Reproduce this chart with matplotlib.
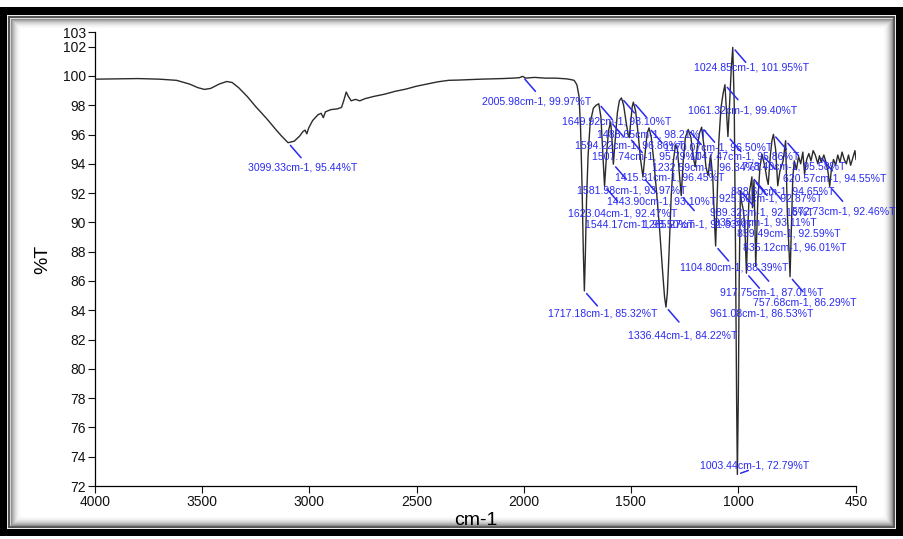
import matplotlib
matplotlib.use("Agg")
import matplotlib.pyplot as plt
from matplotlib.patches import Rectangle

# ---------------------------------------------------------------- data
# Traced spectrum (wavenumber in cm-1, transmittance in %T)
trace_wavenumber = [
    4000, 3900, 3800, 3700, 3620, 3560, 3520, 3490, 3460, 3420, 3385, 3360,
    3330, 3290, 3250, 3200, 3160, 3130, 3070, 3045, 3030, 3020, 3012, 3003,
    2985, 2960, 2945, 2935, 2925, 2900, 2870, 2850, 2840, 2828, 2818, 2805,
    2785, 2765, 2740, 2700, 2650, 2600, 2550, 2500, 2450, 2400, 2350, 2300,
    2250, 2200, 2150, 2100, 2050, 2020, 1990, 1950, 1900, 1850, 1800, 1780,
    1765, 1752, 1742, 1735, 1728, 1722, 1713, 1707, 1700, 1690, 1675, 1662,
    1640, 1632, 1613, 1604, 1588, 1574, 1563, 1554, 1534, 1522, 1513, 1500,
    1494, 1478, 1466, 1455, 1432, 1424, 1405, 1394, 1380, 1366, 1352, 1343,
    1330, 1322, 1312, 1302, 1292, 1283, 1275, 1256, 1246, 1220, 1210, 1200,
    1190, 1180, 1160, 1150, 1140, 1128, 1118, 1110, 1098, 1090, 1080, 1070,
    1055, 1040, 1032, 1018, 1012, 1007, 999, 995, 985, 975, 968, 955, 948,
    933, 908, 898, 875, 866, 850, 842, 825, 815, 805, 790, 770, 762, 750,
    745, 738, 728, 718, 708, 698, 690, 680, 670, 660, 650, 640, 628, 612,
    600, 590, 580, 565, 555, 545, 535, 525, 515, 505, 495, 485, 475, 465,
    455, 450,
]
trace_transmittance = [
    99.78, 99.80, 99.82, 99.78, 99.70, 99.45, 99.20, 99.08, 99.15, 99.45, 99.62, 99.55,
    99.20, 98.60, 97.90, 97.10, 96.40, 95.90, 95.55, 95.90, 96.20, 96.30, 96.05, 96.45,
    96.95, 97.35, 97.45, 97.15, 97.55, 97.70, 97.75, 97.85, 98.30, 98.90, 98.60, 98.30,
    98.40, 98.30, 98.45, 98.60, 98.75, 98.95, 99.10, 99.30, 99.45, 99.60, 99.70, 99.72,
    99.75, 99.78, 99.80, 99.82, 99.85, 99.88, 99.85, 99.90, 99.85, 99.85, 99.80, 99.75,
    99.70, 99.40, 98.60, 96.50, 92.50, 88.00, 87.50, 91.50, 94.50, 96.80, 97.80, 98.00,
    97.20, 95.00, 94.80, 96.30, 95.60, 95.50, 97.50, 98.30, 98.00, 96.80, 96.00, 97.00,
    97.90, 97.60, 96.00, 94.30, 95.00, 96.10, 95.80, 94.30, 92.00, 89.50, 86.60, 84.90,
    85.20, 88.00, 91.80, 94.20, 95.30, 95.00, 93.50, 94.20, 95.80, 95.80, 94.50, 93.80,
    95.20, 96.10, 95.30, 93.80, 93.20, 94.60, 93.00, 90.00, 91.50, 95.50, 97.80, 98.80,
    97.80, 98.00, 100.50, 98.00, 88.00, 78.00, 78.00, 86.00, 91.50, 90.80, 89.50, 89.50, 92.00,
    91.00, 91.50, 93.80, 93.80, 93.00, 94.50, 95.60, 95.00, 92.50, 93.50, 94.20, 90.50, 88.00, 90.50,
    93.00, 94.20, 93.60, 94.50, 94.00, 94.80, 93.30, 94.30, 94.70, 94.20, 94.90, 94.60, 94.00, 94.10,
    94.60, 94.10, 93.40, 93.60, 94.30, 93.90, 94.60, 94.10, 94.80, 94.30, 94.00, 94.60, 93.90, 94.40,
    94.90, 94.30,
]

# Picked peaks (wavenumber in cm-1, %T)
peak_wavenumber = [
    3099.33, 2005.98, 1717.18, 1649.92, 1623.04, 1594.22, 1581.98, 1544.17,
    1507.74, 1488.65, 1443.90, 1415.31, 1336.44, 1265.27, 1232.59, 1170.07,
    1104.80, 1061.32, 1047.47, 1024.85, 1003.44, 989.32, 961.08, 935.50,
    925.80, 917.75, 888.60, 859.49, 835.12, 778.40, 757.68, 620.57, 572.73,
]
peak_transmittance = [
    95.44, 99.97, 85.32, 98.10, 92.47, 96.86, 93.97, 98.50,
    95.79, 98.21, 93.10, 96.45, 84.22, 91.83, 96.34, 96.50,
    88.39, 99.40, 95.86, 101.95, 72.79, 92.16, 86.53, 93.11,
    92.87, 87.01, 94.65, 92.59, 96.01, 95.58, 86.29, 94.55, 92.46,
]

x_ticks = [4000, 3500, 3000, 2500, 2000, 1500, 1000, 450]
y_ticks = [72, 74, 76, 78, 80, 82, 84, 86, 88, 90, 92, 94, 96, 98, 100, 102, 103]

# ---------------------------------------------------------------- layout
# label placement: (dx, dy) in pixels from the peak to the text's left/middle,
# dy measured downwards
DEFAULT_OFFSET = (-38, 24)
label_offset = {
    3099.33: (-40, 25), 2005.98: (-40, 25), 1717.18: (-36, 23),
    1649.92: (-37, 18), 1623.04: (-37, 27), 1594.22: (-36, 24),
    1581.98: (-36, 26), 1544.17: (-36, 127), 1507.74: (-37, 19),
    1488.65: (-36, 32), 1443.90: (-36, 25), 1415.31: (-34, 50),
    1336.44: (-38, 28), 1265.27: (-38, 29), 1232.59: (-36, 38),
    1170.07: (-38, 20), 1104.80: (-36, 22), 1061.32: (-37, 26),
    1047.47: (-38, 20), 1024.85: (-39, 20), 1003.44: (-37, -9),
    989.32: (-30, 22), 961.08: (-36, 40), 935.50: (-38, 46),
    925.80: (-35, 18), 917.75: (-36, 26), 888.60: (-31, 37),
    859.49: (-31, 49), 835.12: (-30, 113), 778.40: (-44, 26),
    757.68: (-37, 26), 620.57: (-36, 23), 572.73: (-38, 25),
}

W, H, DPI = 904, 539, 100
BLUE = "#2a2af2"
FONT = ["Liberation Sans Narrow", "Liberation Sans", "DejaVu Sans"]
LABEL_FONT = ["Liberation Sans", "DejaVu Sans"]

plt.rcParams["font.family"] = FONT

fig = plt.figure(figsize=(W / DPI, H / DPI), dpi=DPI)
fig.patch.set_facecolor("white")


def box(x0, top, x1, bottom, **kw):
    """Rectangle given in image pixels (origin top-left)."""
    r = Rectangle((x0, H - bottom), x1 - x0, bottom - top, transform=None, **kw)
    fig.add_artist(r)
    return r


# outer black border with a thin shadowed inner frame
box(0, 7, 903, 536, facecolor="black", edgecolor="none", zorder=0)
box(7, 15, 896, 529, facecolor="white", edgecolor="none", zorder=0)
box(9, 17, 894, 527, facecolor="none", edgecolor="#555555", linewidth=1.6, zorder=0)
shades = ["#8c8c8c", "#a4a4a4", "#b8b8b8", "#c9c9c9", "#d8d8d8",
          "#e4e4e4", "#eeeeee", "#f5f5f5", "#fafafa"]
for i, c in enumerate(shades):
    box(11 + i, 19 + i, 892 - i, 525 - i, facecolor="none", edgecolor=c,
        linewidth=1.0, zorder=0)

# axes area
ax_left, ax_right, ax_top, ax_bottom = 95, 856, 32, 486
ax = fig.add_axes([ax_left / W, (H - ax_bottom) / H,
                   (ax_right - ax_left) / W, (ax_bottom - ax_top) / H])
ax.set_facecolor("none")

# spectrum: traced points together with the picked peaks
pts = sorted(zip(trace_wavenumber + peak_wavenumber,
                 trace_transmittance + peak_transmittance),
             key=lambda p: -p[0])
ax.plot([p[0] for p in pts], [p[1] for p in pts], color="#2b2b2b",
        linewidth=1.0, zorder=3)

ax.set_xlim(4000, 450)
ax.set_ylim(72, 103)
ax.set_xticks(x_ticks)
ax.set_xticklabels([str(v) for v in x_ticks])
ax.set_yticks(y_ticks)
ax.set_yticklabels([str(v) for v in y_ticks])
for s in ("top", "right"):
    ax.spines[s].set_visible(False)
for s in ("left", "bottom"):
    ax.spines[s].set_linewidth(0.9)
ax.tick_params(axis="both", direction="out", length=5, width=0.8,
               labelsize=10, pad=1.5, colors="#111111")
ax.set_xlabel("cm-1", fontsize=14, labelpad=2)
ax.set_ylabel("%T", fontsize=14, labelpad=8)

# peak labels with short leader lines
for wn, tr in zip(peak_wavenumber, peak_transmittance):
    dx, dy = label_offset.get(wn, DEFAULT_OFFSET)
    lead_end = (13, -15) if dy > 0 else (11, 4)
    ax.annotate("", xy=(wn, tr), xycoords="data",
                xytext=lead_end, textcoords="offset pixels",
                arrowprops=dict(arrowstyle="-", color=BLUE, linewidth=1.1,
                                shrinkA=0, shrinkB=2.5),
                annotation_clip=False, zorder=4)
    ax.annotate(f"{wn:.2f}cm-1, {tr:.2f}%T", xy=(wn, tr),
                xytext=(dx, -dy), textcoords="offset pixels",
                ha="left", va="center", fontsize=7.6, color=BLUE,
                family=LABEL_FONT, annotation_clip=False, zorder=5)

fig.savefig("out.png", dpi=DPI)
